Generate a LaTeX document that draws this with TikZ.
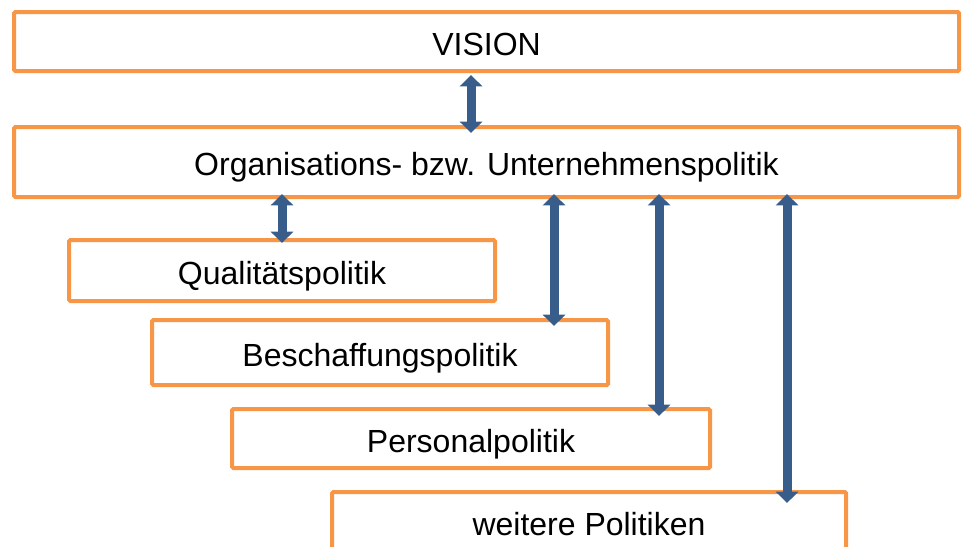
\documentclass[tikz,border=0pt]{standalone}
\usepackage{fontspec}
\setmainfont{Liberation Sans}
\usetikzlibrary{arrows.meta}
\newcommand{\unitsize}{0.75pt}
\definecolor{rahmen}{HTML}{F79646}
\definecolor{pfeilblau}{HTML}{385D8A}

\begin{document}
\begin{tikzpicture}
\useasboundingbox (0,0) rectangle (963*\unitsize,-546*\unitsize);
\tikzstyle{box}=[draw=rahmen,
			line width=4*\unitsize,
			fill=white,
			rounded corners=1pt,
			inner sep=0pt,
			outer sep=0pt,
			text height=20.4pt,
			text depth=0pt,
			font=\fontsize{24}{28}\selectfont
			]
\tikzstyle{pfeil}=[pfeilblau,
			line width=9*\unitsize,
			{Triangle[width=16.5pt,length=8.5pt]}-{Triangle[width=16.5pt,length=8.5pt]}
			]


\node[box, minimum width=945*\unitsize, minimum height=59*\unitsize] (vision) at (486.5*\unitsize,-41.5*\unitsize) {VISION};


\node[box, minimum width=945*\unitsize, minimum height=70*\unitsize] (org) at (486.5*\unitsize,-162*\unitsize) {Organisations- bzw. Unternehmenspolitik};


\node[box, minimum width=426*\unitsize, minimum height=61*\unitsize] (qual) at (282*\unitsize,-270.5*\unitsize) {Qualitätspolitik};


\node[box, minimum width=456*\unitsize, minimum height=65*\unitsize] (besch) at (380*\unitsize,-352.5*\unitsize) {Beschaffungspolitik};


\node[box, minimum width=478*\unitsize, minimum height=59*\unitsize] (personal) at (471*\unitsize,-438.5*\unitsize) {Personalpolitik};


\node[box, minimum width=514*\unitsize, minimum height=60*\unitsize] (weitere) at (589*\unitsize,-522*\unitsize) {weitere Politiken};


\coordinate (t1) at (471*\unitsize,-133*\unitsize);
\coordinate (t2) at (282*\unitsize,-243*\unitsize);
\coordinate (t3) at (554*\unitsize,-326*\unitsize);
\coordinate (t4) at (659*\unitsize,-416*\unitsize);
\coordinate (t5) at (787*\unitsize,-503*\unitsize);


\draw[pfeil, shorten <=4*\unitsize] (vision.south -| t1) -- (t1);
    

\draw[pfeil, shorten <=-3*\unitsize] (org.south -| t2) -- (t2);
    

\draw[pfeil, shorten <=-3*\unitsize] (org.south -| t3) -- (t3);
    

\draw[pfeil, shorten <=-3*\unitsize] (org.south -| t4) -- (t4);
    

\draw[pfeil, shorten <=-3*\unitsize] (org.south -| t5) -- (t5);
    

\end{tikzpicture}
\end{document}
